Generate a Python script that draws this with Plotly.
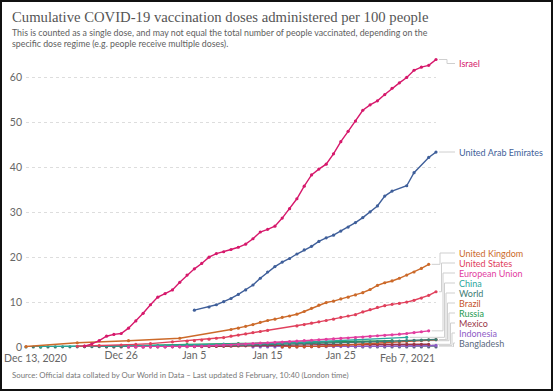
import plotly.graph_objects as go
import pandas as pd

# ---------------- data (days counted from Dec 13, 2020) ----------------
START = pd.Timestamp("2020-12-13")

israel_days = list(range(8, 57))
israel_vals = [0.2, 0.7, 1.4, 2.4, 2.8, 3.0, 4.2, 5.8, 7.5, 9.4, 11.1, 11.9, 12.7, 14.4,
               16.0, 17.4, 18.6, 20.0, 20.8, 21.2, 21.7, 22.2, 22.9, 24.1, 25.6, 26.2,
               26.9, 28.7, 30.8, 33.0, 35.8, 38.3, 39.6, 40.7, 43.0, 45.7, 48.0, 50.3,
               52.7, 53.9, 54.8, 56.2, 57.6, 58.8, 60.0, 61.6, 62.3, 62.7, 64.0]

uae_days = [23, 25, 26, 27, 28, 29, 30, 31, 32, 33, 34, 35, 36, 37, 38, 39, 40, 41, 42,
            43, 44, 45, 46, 47, 48, 49, 50, 52, 53, 55, 56]
uae_vals = [8.2, 8.9, 9.4, 10.1, 10.8, 11.7, 12.7, 13.8, 15.3, 16.7, 17.9, 18.9, 19.7,
            20.7, 21.6, 22.4, 23.5, 24.3, 24.9, 25.8, 26.7, 27.7, 28.8, 30.1, 31.4, 33.6,
            34.7, 35.9, 38.8, 42.2, 43.4]

uk_days = [0, 7, 14, 21, 28, 29, 30, 31, 32, 33, 34, 35, 36, 37, 38, 39, 40, 41, 42, 43,
           44, 45, 46, 47, 48, 49, 50, 51, 52, 53, 54, 55]
uk_vals = [0.1, 0.95, 1.4, 1.95, 3.9, 4.2, 4.6, 5.0, 5.5, 5.9, 6.2, 6.6, 6.9, 7.3, 7.9,
           8.6, 9.3, 9.9, 10.2, 10.7, 11.1, 11.6, 12.1, 12.8, 13.7, 14.3, 14.7, 15.3,
           16.0, 16.7, 17.5, 18.4]

us_days = [7, 8, 10, 13, 15, 17, 20, 22, 23, 24, 25, 26, 27, 28, 29, 30, 31, 32, 33, 37,
           38, 39, 40, 41, 42, 43, 44, 45, 46, 47, 48, 49, 50, 51, 52, 53, 54, 55, 56]
us_vals = [0.17, 0.2, 0.31, 0.45, 0.58, 0.75, 1.15, 1.3, 1.4, 1.55, 1.75, 1.95, 2.1, 2.4,
           2.65, 2.9, 3.2, 3.45, 3.7, 4.7, 5.0, 5.3, 5.6, 5.9, 6.2, 6.6, 6.9, 7.2, 7.8,
           8.3, 8.8, 9.2, 9.5, 9.7, 10.0, 10.4, 10.9, 11.5, 12.3]

eu_days = list(range(14, 56))
eu_vals = [0.0, 0.0, 0.01, 0.02, 0.03, 0.05, 0.07, 0.08, 0.1, 0.15, 0.2, 0.27, 0.33, 0.4,
           0.45, 0.55, 0.65, 0.75, 0.85, 0.95, 1.05, 1.1, 1.2, 1.3, 1.4, 1.5, 1.6, 1.7,
           1.8, 1.9, 2.0, 2.1, 2.2, 2.35, 2.5, 2.6, 2.7, 2.85, 3.0, 3.2, 3.4, 3.6]

china_days = [2, 18, 27, 32, 38, 45, 52]
china_vals = [0.1, 0.32, 0.64, 0.71, 1.06, 1.6, 2.15]

world_days = list(range(0, 57))
world_vals = [0.00, 0.00, 0.01, 0.02, 0.02, 0.03, 0.04, 0.05, 0.06, 0.07,
              0.08, 0.09, 0.10, 0.11, 0.12, 0.13, 0.14, 0.16, 0.18, 0.19,
              0.21, 0.23, 0.25, 0.27, 0.29, 0.32, 0.34, 0.37, 0.40, 0.43,
              0.46, 0.49, 0.52, 0.56, 0.59, 0.62, 0.66, 0.70, 0.74, 0.78,
              0.82, 0.86, 0.90, 0.94, 0.98, 1.03, 1.08, 1.13, 1.18, 1.23,
              1.28, 1.34, 1.40, 1.46, 1.53, 1.60, 1.66]

brazil_days = list(range(35, 57))
brazil_vals = [0.0, 0.0, 0.01, 0.03, 0.07, 0.12, 0.2, 0.28, 0.35, 0.42, 0.5, 0.6, 0.7,
               0.85, 0.95, 1.05, 1.15, 1.25, 1.35, 1.45, 1.55, 1.62]

russia_days = [2, 8, 15, 22, 29, 36, 43, 50]
russia_vals = [0.0, 0.1, 0.3, 0.55, 0.75, 0.95, 1.2, 1.4]

mexico_days = list(range(11, 56))
mexico_vals = [0.0, 0.0, 0.01, 0.01, 0.02, 0.02, 0.03, 0.03, 0.04, 0.04, 0.05, 0.06,
               0.07, 0.08, 0.1, 0.12, 0.15, 0.18, 0.22, 0.26, 0.3, 0.33, 0.36, 0.38, 0.4,
               0.42, 0.44, 0.46, 0.48, 0.49, 0.5, 0.51, 0.52, 0.52, 0.53, 0.53, 0.54,
               0.54, 0.55, 0.55, 0.56, 0.57, 0.58, 0.59, 0.6]

indonesia_days = list(range(31, 57))
indonesia_vals = [0.0, 0.0, 0.01, 0.01, 0.02, 0.03, 0.04, 0.05, 0.06, 0.06, 0.07, 0.08,
                  0.09, 0.1, 0.12, 0.14, 0.16, 0.18, 0.2, 0.22, 0.24, 0.26, 0.28, 0.3,
                  0.33, 0.36]

bangladesh_days = list(range(45, 57))
bangladesh_vals = [0.0, 0.0, 0.0, 0.0, 0.0, 0.0, 0.01, 0.01, 0.01, 0.02, 0.02, 0.02]

x_tick_dates = ["2020-12-26", "2021-01-05", "2021-01-15", "2021-01-25"]
x_tick_labels = ["Dec 26", "Jan 5", "Jan 15", "Jan 25"]
y_ticks = [0, 10, 20, 30, 40, 50, 60]

# ---------------- styling ----------------
series = [
    # name, days, vals, colour
    ("Bangladesh", bangladesh_days, bangladesh_vals, "#5b6a80"),
    ("Indonesia", indonesia_days, indonesia_vals, "#8e5cc6"),
    ("Mexico", mexico_days, mexico_vals, "#9a3648"),
    ("Russia", russia_days, russia_vals, "#1f9c4f"),
    ("Brazil", brazil_days, brazil_vals, "#c6552c"),
    ("World", world_days, world_vals, "#3d7c74"),
    ("China", china_days, china_vals, "#2aa69b"),
    ("European Union", eu_days, eu_vals, "#e23d9f"),
    ("United States", us_days, us_vals, "#e0405c"),
    ("United Kingdom", uk_days, uk_vals, "#cc6a2a"),
    ("United Arab Emirates", uae_days, uae_vals, "#3f5f9a"),
    ("Israel", israel_days, israel_vals, "#d6186b"),
]

W, H = 553, 391
L, R, T, B = 26, 117, 55, 44
PW, PH = W - L - R, H - T - B
YMAX = 65
NDAYS = 56
END = START + pd.Timedelta(days=NDAYS)


def px_x(px):
    return (px - L) / PW


def px_y_paper(py):
    return (H - B - py) / PH


def px_y_val(py):
    return (H - B - py) / PH * YMAX


def to_dates(days):
    return [START + pd.Timedelta(days=d) for d in days]


fig = go.Figure()
for name, days, vals, col in series:
    fig.add_trace(go.Scatter(
        x=to_dates(days), y=vals, mode="lines+markers", name=name,
        line=dict(color=col, width=1.4), marker=dict(color=col, size=3.2),
        cliponaxis=False, hoverinfo="skip"))

shapes = []
annotations = []
GREY = "#cfcfcf"


def elbow(end_day, end_val, xe, label_py, x_label_end=455):
    x0 = px_x(L + PW * end_day / NDAYS + 3)
    xe_p = px_x(xe)
    xl = px_x(x_label_end)
    lv = px_y_val(label_py)
    segs = [(x0, end_val, xe_p, end_val), (xe_p, end_val, xe_p, lv), (xe_p, lv, xl, lv)]
    for a, b, c, d in segs:
        shapes.append(dict(type="line", xref="paper", yref="y", x0=a, y0=b, x1=c, y1=d,
                           line=dict(color=GREY, width=1), layer="below"))


def label(text, col, py):
    annotations.append(dict(text=text, xref="paper", yref="y", x=px_x(457), y=px_y_val(py),
                            xanchor="left", yanchor="middle", showarrow=False,
                            font=dict(family="Lato", size=9, color=col)))


by_name = {s[0]: s for s in series}
for nm, py, xe in [("Israel", 63.5, 447), ("United Arab Emirates", 152, 447)]:
    _, d, v, c = by_name[nm]
    elbow(d[-1], v[-1], xe, py)
    label(nm, c, py)

cluster = ["United Kingdom", "United States", "European Union", "China", "World",
           "Brazil", "Russia", "Mexico", "Indonesia", "Bangladesh"]
for i, nm in enumerate(cluster):
    _, d, v, c = by_name[nm]
    py = 253 + 10 * i
    elbow(d[-1], v[-1], 440 + 1.5 * i, py)
    label(nm, c, py)

annotations += [
    dict(text="Cumulative COVID-19 vaccination doses administered per 100 people",
         xref="paper", yref="paper", x=px_x(10), y=px_y_paper(17), xanchor="left",
         yanchor="middle", showarrow=False,
         font=dict(family="Liberation Serif", size=14.7, color="#555555")),
    dict(text="This is counted as a single dose, and may not equal the total number of people vaccinated, depending on the",
         xref="paper", yref="paper", x=px_x(10), y=px_y_paper(33), xanchor="left",
         yanchor="middle", showarrow=False, font=dict(family="Lato", size=8.8, color="#5e5e5e")),
    dict(text="specific dose regime (e.g. people receive multiple doses).",
         xref="paper", yref="paper", x=px_x(10), y=px_y_paper(44), xanchor="left",
         yanchor="middle", showarrow=False, font=dict(family="Lato", size=8.8, color="#5e5e5e")),
    dict(text="Source: Official data collated by Our World in Data – Last updated 8 February, 10:40 (London time)",
         xref="paper", yref="paper", x=px_x(10), y=px_y_paper(375), xanchor="left",
         yanchor="middle", showarrow=False, font=dict(family="Lato", size=7.8, color="#777777")),
    dict(text="Dec 13, 2020", xref="paper", yref="paper", x=px_x(2), y=px_y_paper(358),
         xanchor="left", yanchor="middle", showarrow=False,
         font=dict(family="Lato", size=10.5, color="#666666")),
    dict(text="Feb 7, 2021", xref="paper", yref="paper", x=px_x(437), y=px_y_paper(358),
         xanchor="right", yanchor="middle", showarrow=False,
         font=dict(family="Lato", size=10.5, color="#666666")),
]

shapes.append(dict(type="rect", xref="paper", yref="paper", x0=px_x(1), x1=px_x(552),
                   y0=px_y_paper(390), y1=px_y_paper(1), line=dict(color="#111111", width=2),
                   fillcolor="rgba(0,0,0,0)"))

fig.update_layout(
    width=W, height=H, margin=dict(l=L, r=R, t=T, b=B, pad=0, autoexpand=False),
    paper_bgcolor="white", plot_bgcolor="white", showlegend=False,
    font=dict(family="Lato", color="#666666"),
    shapes=shapes, annotations=annotations,
    xaxis=dict(type="date", range=[START, END], tickvals=x_tick_dates, ticktext=x_tick_labels,
               showgrid=False, zeroline=False, showline=False, ticks="", automargin=False,
               tickfont=dict(family="Lato", size=10.5, color="#666666")),
    yaxis=dict(range=[0, YMAX], tickvals=y_ticks, showgrid=True, gridcolor="#dddddd",
               griddash="dot", gridwidth=1, zeroline=False, showline=False, ticks="",
               automargin=False, ticklabelstandoff=3,
               tickfont=dict(family="Lato", size=10.5, color="#666666")),
)

fig.write_html("out.html", config={"displayModeBar": False},
               post_script="document.body.style.margin='0px';document.body.style.overflow='hidden';")
